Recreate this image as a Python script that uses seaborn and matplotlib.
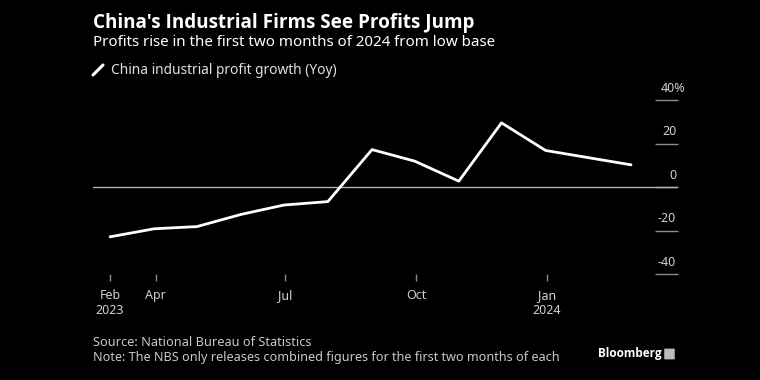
import pandas as pd
import numpy as np
import matplotlib.pyplot as plt
import matplotlib.transforms as mtransforms
from matplotlib.lines import Line2D
from matplotlib.patches import FancyBboxPatch
import seaborn as sns

# Data: monthly YoY industrial profit growth (Jan-Feb combined)
dates = ["2023-02-28", "2023-03-31", "2023-04-30", "2023-05-31", "2023-06-30",
         "2023-07-31", "2023-08-31", "2023-09-30", "2023-10-31", "2023-11-30",
         "2023-12-31", "2024-02-29"]
growth = [-22.9, -19.2, -18.2, -12.6, -8.3, -6.7, 17.2, 11.9, 2.7, 29.5, 16.8, 10.2]

x_ticks = ["2023-02-28", "2023-04-01", "2023-07-01", "2023-10-01", "2024-01-01"]
x_labels = ["Feb\n2023", "Apr", "Jul", "Oct", "Jan\n2024"]
y_ticks = [40, 20, 0, -20, -40]
y_labels = ["40%", "20", "0", "-20", "-40"]

df = pd.DataFrame({"date": pd.to_datetime(dates), "growth": growth})

sns.set_style("dark")
plt.rcParams["font.family"] = ["Noto Sans", "DejaVu Sans"]

bg = "#000000"
fig = plt.figure(figsize=(7.6, 3.8), dpi=100, facecolor=bg)
ax = fig.add_axes([0.1224, 0.2789, 0.7697, 0.4579], facecolor=bg)

sns.lineplot(data=df, x="date", y="growth", ax=ax, color="white", linewidth=2.0)

ax.axhline(0, color="#b0b0b0", linewidth=1.0, zorder=1)

ax.set_xlim(pd.Timestamp("2023-02-16"), pd.Timestamp("2024-04-02"))
ax.set_ylim(-40, 40)
ax.set_xlabel("")
ax.set_ylabel("")
for s in ax.spines.values():
    s.set_visible(False)
ax.grid(False)

# x axis
ax.set_xticks(pd.to_datetime(x_ticks))
ax.set_xticklabels(x_labels)
ax.tick_params(axis="x", bottom=True, length=5, width=1, color="#8c8c8c",
               labelcolor="#d0d0d0", labelsize=9, pad=6)

# y axis: short segments on the right, labels above them
ax.yaxis.set_ticks_position("right")
ax.set_yticks(y_ticks)
ax.tick_params(axis="y", right=True, left=False, direction="in", length=16.5,
               width=1, color="#8c8c8c", labelright=False, labelleft=False)
offset = mtransforms.ScaledTranslation(0, 0.12, fig.dpi_scale_trans)
trans = mtransforms.blended_transform_factory(ax.transAxes, ax.transData) + offset
for v, lab in zip(y_ticks, y_labels):
    xr = 1.012 if lab.endswith("%") else 0.997
    ax.text(xr, v, lab, transform=trans, ha="right", va="center",
            color="#d0d0d0", fontsize=9)

# headings
x0 = 93 / 760
fig.text(x0, 1 - 23 / 380, "China's Industrial Firms See Profits Jump",
         color="white", fontsize=13.6, fontweight="bold", va="center",
         family=["Open Sans", "DejaVu Sans"])
fig.text(x0, 1 - 43 / 380, "Profits rise in the first two months of 2024 from low base",
         color="white", fontsize=10.9, va="center")
fig.add_artist(Line2D([93 / 760, 103 / 760], [1 - 75 / 380, 1 - 65 / 380],
                      color="white", linewidth=2.2, solid_capstyle="round"))
fig.text(111 / 760, 1 - 70 / 380, "China industrial profit growth (Yoy)",
         color="#e0e0e0", fontsize=9.9, va="center")

# footer
fig.text(x0, 1 - 342 / 380, "Source: National Bureau of Statistics",
         color="#c8c8c8", fontsize=9.2, va="center")
fig.text(x0, 1 - 357 / 380,
         "Note: The NBS only releases combined figures for the first two months of each",
         color="#c8c8c8", fontsize=9.1, va="center")
fig.text(598 / 760, 1 - 354 / 380, "Bloomberg", color="white", fontsize=8.5,
         fontweight="bold", va="center", family=["Open Sans", "DejaVu Sans"])
fig.add_artist(FancyBboxPatch((665 / 760, 1 - 359 / 380), 9 / 760, 10 / 380,
                              boxstyle="round,pad=0.001", facecolor="#bbbbbb",
                              edgecolor="none", transform=fig.transFigure))

fig.savefig("out.png", dpi=100, facecolor=bg)
